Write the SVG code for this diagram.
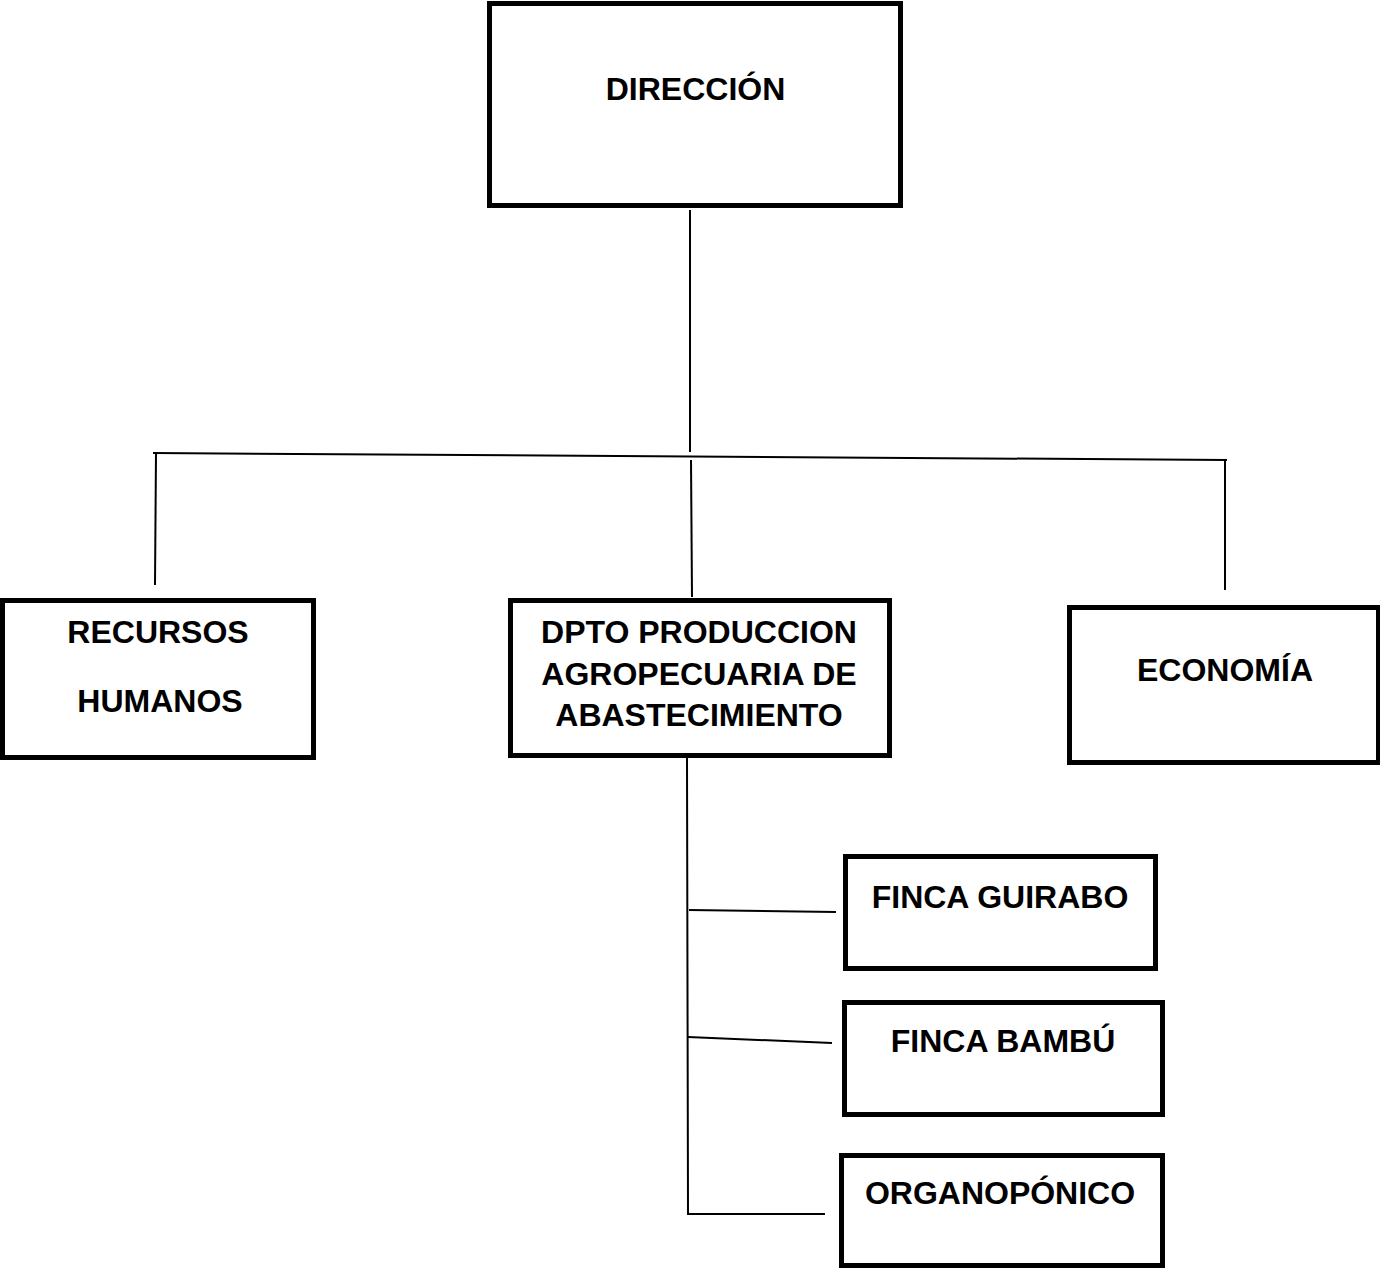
<svg xmlns="http://www.w3.org/2000/svg" width="1380" height="1268" viewBox="0 0 1380 1268">
<style>
.box{fill:#fff;stroke:#000;stroke-width:5}
.lbl{font-family:"Liberation Sans",Arial,sans-serif;font-weight:bold;font-size:32px;fill:#000;text-anchor:middle}
.ln{stroke:#000;stroke-width:2;fill:none}
</style>
<rect width="1380" height="1268" fill="#fff"/>
<g id="connectors">
<line class="ln" x1="690" y1="210" x2="690" y2="452"/>
<line class="ln" x1="153" y1="453" x2="1227" y2="460"/>
<line class="ln" x1="156" y1="453" x2="155" y2="585"/>
<line class="ln" x1="691" y1="460" x2="692" y2="597"/>
<line class="ln" x1="1225" y1="460" x2="1225" y2="590"/>
<polyline class="ln" points="687,758 688,1214 825,1214"/>
<line class="ln" x1="689" y1="910" x2="836" y2="912"/>
<line class="ln" x1="688" y1="1037" x2="832" y2="1043"/>
</g>
<g id="direccion">
<rect class="box" x="489.5" y="3.5" width="411" height="202"/>
<text class="lbl" x="695.5" y="100">DIRECCIÓN</text>
</g>
<g id="recursos-humanos">
<rect class="box" x="2.5" y="600.5" width="311" height="157"/>
<text class="lbl" x="158" y="643">RECURSOS</text>
<text class="lbl" x="160" y="712">HUMANOS</text>
</g>
<g id="dpto-produccion">
<rect class="box" x="510.5" y="600.5" width="379" height="155"/>
<text class="lbl" x="699" y="643">DPTO PRODUCCION</text>
<text class="lbl" x="699" y="685">AGROPECUARIA DE</text>
<text class="lbl" x="699" y="726">ABASTECIMIENTO</text>
</g>
<g id="economia">
<rect class="box" x="1069.5" y="607.5" width="309" height="155"/>
<text class="lbl" x="1225" y="681">ECONOMÍA</text>
</g>
<g id="finca-guirabo">
<rect class="box" x="845.5" y="856.5" width="310" height="112"/>
<text class="lbl" x="1000" y="908">FINCA GUIRABO</text>
</g>
<g id="finca-bambu">
<rect class="box" x="844.5" y="1002.5" width="318" height="112"/>
<text class="lbl" x="1003" y="1052">FINCA BAMBÚ</text>
</g>
<g id="organoponico">
<rect class="box" x="841.5" y="1155.5" width="321" height="110"/>
<text class="lbl" x="1000" y="1204">ORGANOPÓNICO</text>
</g>
</svg>
